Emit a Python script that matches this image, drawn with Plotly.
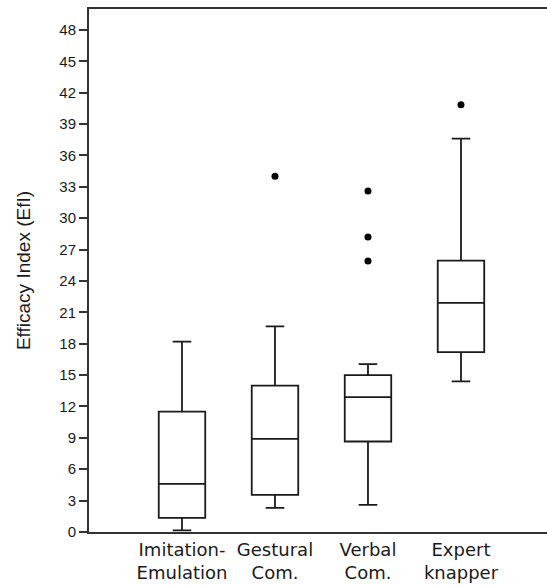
import plotly.graph_objects as go

categories = ["Imitation-<br>Emulation", "Gestural<br>Com.", "Verbal<br>Com.", "Expert<br>knapper"]
positions = [1, 2, 3, 4]
lower_whisker = [0.15, 2.3, 2.6, 14.4]
q1 = [1.35, 3.55, 8.65, 17.2]
median = [4.6, 8.9, 12.9, 21.9]
q3 = [11.5, 14.0, 15.0, 25.95]
upper_whisker = [18.2, 19.65, 16.05, 37.6]
outlier_x = [2, 3, 3, 3, 4]
outlier_y = [34.0, 32.6, 28.2, 25.9, 40.85]
y_ticks = list(range(0, 49, 3))

fig = go.Figure()
fig.add_trace(go.Box(
    x=positions, q1=q1, median=median, q3=q3,
    lowerfence=lower_whisker, upperfence=upper_whisker,
    fillcolor="white", line=dict(color="#1a1a1a", width=1.8),
    width=0.5, whiskerwidth=0.4, boxpoints=False, showlegend=False,
    hoverinfo="skip",
))
fig.add_trace(go.Scatter(
    x=outlier_x, y=outlier_y, mode="markers",
    marker=dict(color="black", size=7), showlegend=False, hoverinfo="skip",
))

fig.update_layout(
    width=547, height=585,
    margin=dict(l=89, r=0, t=9, b=53),
    paper_bgcolor="white", plot_bgcolor="white",
    xaxis=dict(
        range=[0, 4.925], tickvals=positions, ticktext=categories,
        showline=True, linecolor="#333", linewidth=2, mirror=True,
        showgrid=False, zeroline=False, ticks="",
        tickfont=dict(family="DejaVu Sans", size=18, color="#1a1a1a"),
    ),
    yaxis=dict(
        range=[0, 50], tickvals=y_ticks,
        showline=True, linecolor="#333", linewidth=2,
        showgrid=False, zeroline=False,
        ticks="outside", ticklen=8, tickwidth=1.5, tickcolor="#333",
        tickfont=dict(family="Liberation Sans", size=15, color="#1a1a1a"),
        title=dict(text="Efficacy Index (EfI)", standoff=24,
                   font=dict(family="Liberation Sans", size=19, color="#1a1a1a")),
    ),
)
fig.write_html("out.html")
